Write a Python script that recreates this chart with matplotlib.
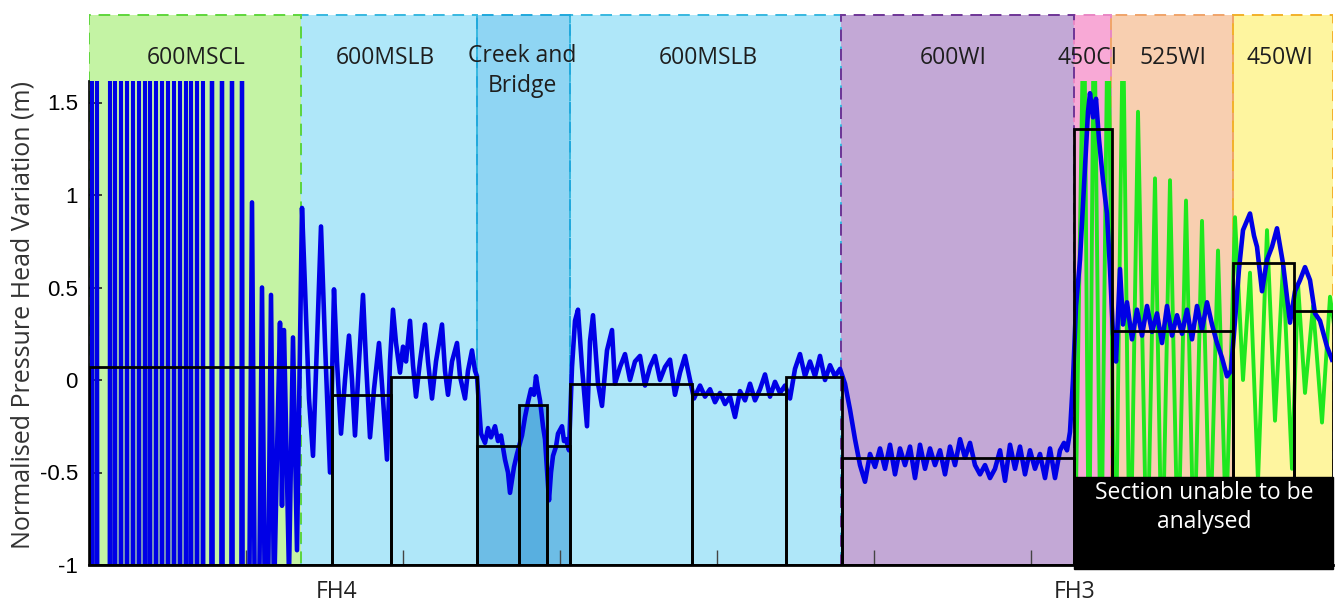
import matplotlib
matplotlib.use("Agg")
import matplotlib.pyplot as plt
from matplotlib.patches import Rectangle
import numpy as np

# pipe sections along the main (chainage in plot units)
section_names = ['600MSCL', '600MSLB', 'Creek and\nBridge', '600MSLB', '600WI', '450CI', '525WI', '450WI']
section_start = [89, 301, 477, 570, 841, 1074, 1111, 1233]
section_end = [301, 477, 570, 841, 1074, 1111, 1233, 1333]
section_fill = ['#c4f3a4', '#afe7f9', '#8fd5f3', '#afe7f9', '#c3a8d6', '#f8a9d6', '#f8cfb0', '#fef59f']
section_edge = ['#5fd63c', '#38b8e0', '#1fa8dc', '#38b8e0', '#6e3596', '#e987c4', '#f0a46a', '#f2b12a']
label_x = [196, 385, 522, 708, 953, 1087, 1173, 1280]
label_y = [1.74, 1.74, 1.67, 1.74, 1.74, 1.74, 1.74, 1.74]
edge_order = [1, 3, 2, 0, 5, 4, 6, 7]

# average head level per analysed segment
box_start = [89, 332, 391, 477, 519, 547, 570, 692, 786, 842, 1074, 1112, 1233, 1294]
box_end = [332, 391, 477, 519, 547, 570, 692, 786, 842, 1074, 1112, 1233, 1294, 1333]
box_level = [0.07, -0.08, 0.016, -0.357, -0.135, -0.357, -0.022, -0.076, 0.016, -0.422,
             1.357, 0.265, 0.632, 0.373]
box_fill = {3: '#6dbde6', 4: '#58afe0', 5: '#6dbde6'}

# blue trace, 600MSCL part (large clipped oscillation)
scl_x = [90.5, 92, 93.5, 95.5, 97, 98.5, 108.5, 110, 111.5, 113.5, 115, 116.5, 119.5, 121, 122.5,
         125.5, 127, 128.5, 131.5, 133, 134.5, 137.5, 139, 140.5, 143.5, 145, 146.5, 148.5, 150,
         151.5, 154.5, 156, 157.5, 160.5, 162, 163.5, 166.5, 168, 169.5, 172.5, 174, 175.5, 178.5,
         180, 181.5, 184.5, 186, 187.5, 189.5, 191, 192.5, 195.5, 197, 198.5, 201.5, 203, 204.5,
         209.8, 212, 214.2, 219.8, 222, 224.2, 229.8, 232, 234.2, 239.8, 242, 244.2]
scl_y = [-5, 5, -5] * 23

# blue trace, rest of the line
blue_x = [244.2, 249, 252, 255, 259, 262, 265, 268, 271, 274, 277, 280, 282, 284, 289, 293, 297,
          302, 305, 309, 313, 317, 321, 325, 330, 334, 337, 341, 345, 349, 352, 355, 359, 363, 366,
          370, 374, 379, 383, 387, 390, 393, 396, 400, 403, 406, 410, 413, 416, 420, 425, 428, 432,
          436, 442, 445, 448, 452, 457, 460, 465, 468, 472, 475,
          477, 479, 481, 485, 488, 491, 495, 498, 501, 505, 508, 510, 514, 517, 519, 522, 525, 528,
          531, 534, 536, 538, 540, 543, 545, 549, 551, 553, 556, 558, 562, 564, 566, 569,
          572, 575, 578, 582, 587, 590, 593, 598, 602, 607, 612, 615, 620, 625, 630, 635, 640, 645,
          650, 655, 660, 665, 670, 675, 680, 685, 690, 694, 700, 705, 710, 715, 720, 725, 730, 735,
          740, 745, 750, 755, 760, 765, 770, 775, 780, 785, 790, 795, 800, 805, 810, 815, 820, 825,
          830, 835, 840, 845, 850, 855, 860, 865, 870, 875,
          880, 885, 890, 895, 900, 905, 910, 915, 920, 925, 930, 935, 940, 945, 950, 955, 960, 965,
          970, 975, 980, 985, 990, 995, 1000, 1005, 1010, 1015, 1020, 1025, 1030, 1035, 1040, 1045,
          1050, 1055, 1060, 1064, 1067, 1070, 1073, 1076, 1080, 1084, 1088, 1090, 1093, 1096, 1099,
          1103, 1107, 1110, 1113, 1116, 1120, 1123, 1127, 1132, 1137, 1142, 1147, 1152, 1157, 1162,
          1167, 1172, 1177, 1182, 1187, 1192, 1197, 1202, 1207, 1212, 1217, 1222, 1227, 1231, 1235,
          1239, 1243, 1250, 1254, 1257, 1262, 1267, 1272, 1277, 1283, 1287, 1290, 1295, 1300, 1305,
          1310, 1315, 1320, 1327, 1332]
blue_y = [-5, -1.4, 0.96, -1.4, -1.3, 0.5, -1.3, -1.2, 0.46, -1.2, -0.4, 0.31, -0.68, 0.27, -1.05,
          0.23, -0.92,
          0.93, 0.5, -0.1, -0.41, 0.2, 0.83, 0.2, -0.5, 0.49, 0.1, -0.29, 0.0, 0.24, 0.0, -0.3, 0.1,
          0.46, 0.1, -0.31, -0.05, 0.2, -0.1, -0.43, 0.1, 0.38, 0.2, 0.04, 0.18, 0.1, 0.32, 0.08,
          -0.09, 0.1, 0.3, 0.1, -0.1, 0.1, 0.3, 0.05, -0.08, 0.1, 0.2, 0.02, -0.1, 0.05, 0.16, 0.05,
          0.02, -0.14, -0.29, -0.34, -0.26, -0.31, -0.25, -0.33, -0.3, -0.43, -0.5, -0.61, -0.47,
          -0.4, -0.36, -0.3, -0.2, -0.12, -0.05, -0.08, 0.02, -0.05, -0.11, -0.25, -0.32, -0.65,
          -0.5, -0.41, -0.36, -0.29, -0.25, -0.33, -0.32, -0.38,
          0.07, 0.32, 0.38, 0.07, -0.25, 0.21, 0.35, -0.02, -0.14, 0.16, 0.27, -0.02, 0.07, 0.14,
          0.0, 0.1, 0.13, -0.03, 0.07, 0.13, 0.0, 0.07, 0.11, -0.08, 0.04, 0.13, 0.0, -0.1,
          -0.03, -0.09, -0.05, -0.12, -0.07, -0.13, -0.09, -0.2, -0.06, -0.11, -0.02, -0.11, -0.05,
          0.03, -0.09, -0.01, -0.07, -0.03, -0.1, 0.06, 0.14, 0.02, 0.1, 0.02, 0.13, 0.0, 0.08, 0.02,
          0.06, -0.02, -0.16, -0.32, -0.46, -0.55, -0.4, -0.47,
          -0.37, -0.48, -0.35, -0.51, -0.37, -0.46, -0.36, -0.53, -0.35, -0.48, -0.37, -0.46, -0.38,
          -0.51, -0.36, -0.46, -0.32, -0.42, -0.34, -0.46, -0.51, -0.46, -0.53, -0.48, -0.38, -0.545,
          -0.35, -0.48, -0.36, -0.51, -0.38, -0.48, -0.40, -0.53, -0.37, -0.53, -0.38, -0.34, -0.38,
          -0.28, 0.0, 0.4, 0.65, 1.05, 1.45, 1.55, 1.42, 1.52, 1.3, 1.08, 0.9, 0.6, 0.25, 0.1, 0.6,
          0.3, 0.42, 0.22, 0.38, 0.24, 0.4, 0.26, 0.36, 0.2, 0.4, 0.24, 0.35, 0.25, 0.38, 0.22, 0.4,
          0.27, 0.42, 0.3, 0.2, 0.12, 0.02, 0.05, 0.32, 0.6, 0.81, 0.9, 0.78, 0.72, 0.48, 0.65, 0.72,
          0.82, 0.63, 0.45, 0.31, 0.48, 0.54, 0.61, 0.54, 0.36, 0.32, 0.18, 0.11]

# green trace (FH3 side)
green_x = [1074, 1084, 1089, 1094, 1101, 1108, 1115, 1123, 1130, 1138, 1147, 1155, 1162, 1170,
           1178, 1186, 1194, 1202, 1210, 1218, 1226, 1235, 1243, 1250, 1258, 1267, 1275, 1283,
           1292, 1298, 1305, 1313, 1322, 1330, 1334]
green_y = [-1.3, 2.2, -1.2, 2.2, -1.2, 2.2, -1.3, 2.0, -1.2, 1.45, -1.1, 1.09, -1.1, 1.08, -1.0,
           0.97, -1.0, 0.86, -0.9, 0.7, -0.8, 0.88, 0.0, 0.58, -0.55, 0.81, -0.22, 0.62, -0.48,
           0.52, -0.07, 0.4, -0.23, 0.45, 0.3]

sensor_pos = [337, 1075]
sensor_names = ['FH4', 'FH3']
x_ticks = [246, 403, 560, 717, 874, 1031, 1188]
y_ticks = [-1, -0.5, 0, 0.5, 1, 1.5]
y_tick_labels = ['-1', '-0.5', '0', '0.5', '1', '1.5']

plt.rcParams['font.family'] = ['Open Sans', 'DejaVu Sans']

fig = plt.figure(figsize=(13.38, 6.05), dpi=100)
ax = fig.add_axes([89 / 1338, 40 / 605, 1244 / 1338, 555 / 605])
ax.set_xlim(89, 1333)
ax.set_ylim(-1, 2.0)

top = 1.973
for i in range(len(section_names)):
    ax.add_patch(Rectangle((section_start[i], -1), section_end[i] - section_start[i], top + 1,
                           facecolor=section_fill[i], edgecolor='none', zorder=0.5))
for i in edge_order:
    ax.add_patch(Rectangle((section_start[i], -1), section_end[i] - section_start[i], top + 1,
                           facecolor='none', edgecolor=section_edge[i], lw=1.4,
                           linestyle=(0, (6, 4)), zorder=0.6))
for i in range(len(section_names)):
    ax.text(label_x[i], label_y[i], section_names[i], ha='center', va='center',
            fontsize=16.5, color='#1e1e1e', linespacing=1.3, zorder=6)

for i, c in box_fill.items():
    ax.add_patch(Rectangle((box_start[i], -1), box_end[i] - box_start[i], box_level[i] + 1,
                           facecolor=c, edgecolor='none', zorder=0.8))

clip = Rectangle((89, -1), 1244, 2.616, transform=ax.transData)
lg, = ax.plot(green_x, green_y, color='#1fe81f', lw=2.8, zorder=2)
ls, = ax.plot(scl_x, scl_y, color='#0000e6', lw=2.2, zorder=2.1)
lb, = ax.plot(blue_x, blue_y, color='#0000e6', lw=3.3, zorder=2.2)
for ln in (lg, ls, lb):
    ln.set_clip_path(clip)

for i in range(len(box_level)):
    ax.add_patch(Rectangle((box_start[i], -1), box_end[i] - box_start[i], box_level[i] + 1,
                           facecolor='none', edgecolor='black', lw=2.0, zorder=3))

ax.add_patch(Rectangle((1074, -1.02), 259, 0.496, facecolor='black', edgecolor='black',
                       zorder=4, clip_on=False))
ax.text(1204, -0.69, 'Section unable to be\nanalysed', ha='center', va='center', color='white',
        fontsize=16.5, linespacing=1.3, zorder=5)

for pos, name in zip(sensor_pos, sensor_names):
    ax.text(pos, -0.049, name, transform=ax.get_xaxis_transform(), ha='center', va='center',
            fontsize=16.5, color='#222222')

ax.set_xticks(x_ticks)
ax.set_xticklabels([])
ax.tick_params(axis='x', direction='in', length=11, width=1, color='#444444')
ax.set_yticks(y_ticks)
ax.set_yticklabels(y_tick_labels, fontfamily='Liberation Sans', fontsize=16)
ax.tick_params(axis='y', direction='in', length=9, width=1.2, pad=8, color='#222222')

ax.spines['top'].set_visible(False)
ax.spines['right'].set_visible(False)
ax.spines['left'].set_bounds(-1, 1.616)
ax.spines['left'].set_linewidth(1.2)
ax.spines['bottom'].set_linewidth(2.0)
for s in ax.spines.values():
    s.set_zorder(3.5)

fig.text(23 / 1338, (605 - 315) / 605, 'Normalised Pressure Head Variation (m)', rotation=90,
         ha='center', va='center', fontsize=18, color='#333333')

fig.savefig('out.png', dpi=100)
